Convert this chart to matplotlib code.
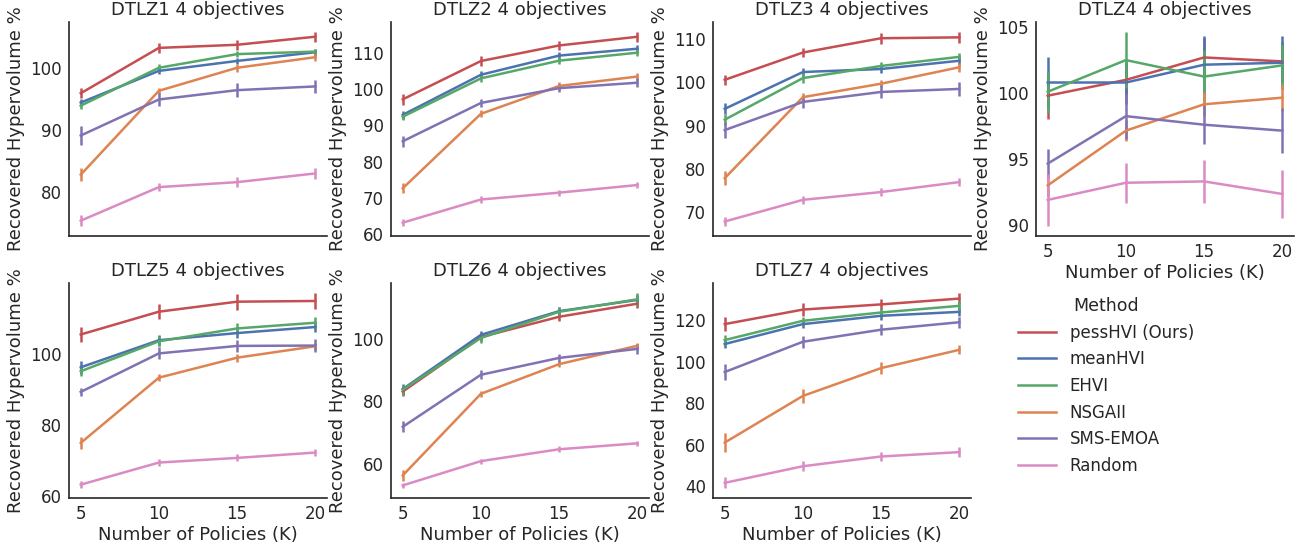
import matplotlib
matplotlib.use("Agg")
import matplotlib.pyplot as plt
from matplotlib.lines import Line2D

K = [5, 10, 15, 20]
methods = ["pessHVI (Ours)", "meanHVI", "EHVI", "NSGAII", "SMS-EMOA", "Random"]
colors = ["#C44E52", "#4C72B0", "#55A868", "#DD8452", "#8172B3", "#DA8BC3"]
titles = ["DTLZ1 4 objectives", "DTLZ2 4 objectives", "DTLZ3 4 objectives",
          "DTLZ4 4 objectives", "DTLZ5 4 objectives", "DTLZ6 4 objectives",
          "DTLZ7 4 objectives"]

# mean values per problem, per method (order as in `methods`)
dtlz1 = [[95.9, 103.2, 103.7, 105.0],
         [94.4, 99.5, 101.1, 102.5],
         [93.9, 100.0, 102.2, 102.6],
         [82.8, 96.3, 100.0, 101.7],
         [89.1, 94.9, 96.4, 97.0],
         [75.4, 80.8, 81.6, 83.0]]
dtlz1_err = [[0.8, 0.8, 0.8, 0.8],
             [0.5, 0.5, 0.5, 0.6],
             [0.6, 0.6, 0.5, 0.5],
             [1.0, 0.5, 0.6, 0.6],
             [1.5, 1.1, 1.1, 1.1],
             [0.9, 0.6, 0.8, 0.9]]

dtlz2 = [[97.2, 107.8, 112.1, 114.5],
         [92.9, 104.0, 109.3, 111.2],
         [92.4, 103.0, 107.9, 110.1],
         [72.6, 93.2, 100.9, 103.5],
         [85.6, 96.2, 100.3, 101.8],
         [63.1, 69.5, 71.4, 73.5]]
dtlz2_err = [[1.6, 1.5, 1.3, 1.4],
             [1.0, 1.0, 1.0, 1.1],
             [1.0, 1.1, 1.0, 1.0],
             [1.4, 1.0, 1.0, 1.0],
             [1.6, 1.2, 1.2, 1.2],
             [1.0, 1.0, 0.8, 0.9]]

dtlz3 = [[100.6, 106.9, 110.2, 110.4],
         [93.9, 102.4, 103.1, 105.0],
         [91.4, 101.0, 103.8, 105.9],
         [77.9, 96.6, 99.7, 103.5],
         [89.0, 95.5, 97.8, 98.5],
         [67.9, 72.9, 74.7, 77.0]]
dtlz3_err = [[1.2, 1.1, 1.3, 1.3],
             [1.3, 1.0, 1.0, 1.0],
             [1.3, 1.1, 1.0, 1.0],
             [1.6, 1.0, 0.8, 1.0],
             [1.9, 1.3, 1.5, 1.6],
             [1.1, 0.9, 0.9, 1.0]]

dtlz4 = [[99.8, 101.0, 102.7, 102.4],
         [100.8, 100.8, 102.15, 102.3],
         [100.1, 102.5, 101.25, 102.1],
         [93.0, 97.15, 99.15, 99.65],
         [94.65, 98.25, 97.6, 97.15],
         [91.9, 93.2, 93.3, 92.35]]
dtlz4_err = [[1.75, 1.2, 1.5, 1.5],
             [1.9, 1.6, 2.2, 2.0],
             [1.6, 2.15, 2.0, 1.6],
             [0.9, 0.8, 0.9, 1.0],
             [1.1, 1.75, 1.5, 1.7],
             [2.0, 1.5, 1.6, 1.8]]

dtlz5 = [[105.4, 111.8, 114.6, 114.8],
         [96.2, 103.8, 105.8, 107.5],
         [95.1, 103.5, 107.1, 108.7],
         [75.0, 93.3, 98.9, 102.1],
         [89.3, 100.1, 102.2, 102.3],
         [63.3, 69.5, 70.8, 72.3]]
dtlz5_err = [[2.2, 2.1, 2.2, 2.3],
             [1.9, 1.5, 1.4, 1.5],
             [1.4, 1.4, 1.5, 1.6],
             [1.6, 1.0, 1.1, 1.0],
             [1.2, 1.7, 1.7, 1.9],
             [1.0, 1.0, 1.0, 1.0]]

dtlz6 = [[83.1, 100.6, 107.1, 111.3],
         [83.9, 101.3, 108.9, 112.5],
         [83.7, 100.3, 108.7, 112.7],
         [56.2, 82.4, 91.9, 97.8],
         [71.8, 88.5, 93.9, 96.8],
         [53.0, 60.8, 64.6, 66.5]]
dtlz6_err = [[1.5, 1.2, 1.2, 1.3],
             [1.6, 1.3, 1.3, 1.5],
             [1.6, 1.6, 1.6, 2.1],
             [1.8, 1.0, 1.0, 1.0],
             [1.8, 1.5, 1.3, 1.6],
             [0.9, 0.8, 0.9, 0.9]]

dtlz7 = [[118.1, 125.1, 127.6, 130.4],
         [108.5, 118.1, 122.1, 124.0],
         [110.4, 119.7, 123.7, 126.9],
         [61.0, 83.5, 96.9, 105.7],
         [95.0, 109.6, 115.4, 119.0],
         [41.6, 49.6, 54.3, 56.4]]
dtlz7_err = [[3.3, 3.0, 2.5, 2.8],
             [2.0, 2.0, 2.0, 2.2],
             [2.5, 2.0, 2.0, 2.4],
             [4.5, 3.4, 2.8, 2.2],
             [4.0, 3.0, 2.6, 2.6],
             [2.6, 2.3, 2.4, 2.3]]

problems = [dtlz1, dtlz2, dtlz3, dtlz4, dtlz5, dtlz6, dtlz7]
errors = [dtlz1_err, dtlz2_err, dtlz3_err, dtlz4_err, dtlz5_err, dtlz6_err, dtlz7_err]

plt.rcParams["font.family"] = ["DejaVu Sans"]
text_color = "#262626"
plt.rcParams.update({
    "text.color": text_color,
    "axes.labelcolor": text_color,
    "xtick.color": text_color,
    "ytick.color": text_color,
    "axes.edgecolor": text_color,
})

W, H = 1308, 548
fig = plt.figure(figsize=(W / 100, H / 100), dpi=100)

lefts = [69, 391, 713, 1036]
width = 258
rows = [(22, 236), (283, 498)]

axes = []
for i in range(7):
    r, c = divmod(i, 4)
    top, bottom = rows[r]
    ax = fig.add_axes([lefts[c] / W, 1 - bottom / H, width / W, (bottom - top) / H])
    axes.append(ax)

for i, ax in enumerate(axes):
    data = problems[i]
    err = errors[i]
    for m, name in enumerate(methods):
        ax.errorbar(K, data[m], yerr=err[m], color=colors[m], lw=1.8,
                    elinewidth=1.8, capsize=0, label=name)
    ax.set_title(titles[i], fontsize=13, pad=5)
    ax.set_ylabel("Recovered Hypervolume %", fontsize=13, labelpad=4)
    ax.set_xticks(K)
    ax.tick_params(axis="both", length=0, labelsize=12, pad=5)
    for s in ["top", "right"]:
        ax.spines[s].set_visible(False)
    for s in ["left", "bottom"]:
        ax.spines[s].set_linewidth(1.2)
    ax.set_xlim(4.25, 20.75)
    if i >= 3:
        ax.set_xlabel("Number of Policies (K)", fontsize=13, labelpad=2)
    else:
        ax.set_xticklabels([])

hs = [Line2D([0], [0], color=c, lw=1.8) for c in colors]
leg = fig.legend(hs, methods, title="Method", loc="upper left",
                 bbox_to_anchor=(1003 / W, 1 - 282 / H), frameon=False,
                 fontsize=12, title_fontsize=12.5, handlelength=2.3,
                 labelspacing=0.52, handletextpad=0.8)

fig.savefig("out.png", dpi=100)
